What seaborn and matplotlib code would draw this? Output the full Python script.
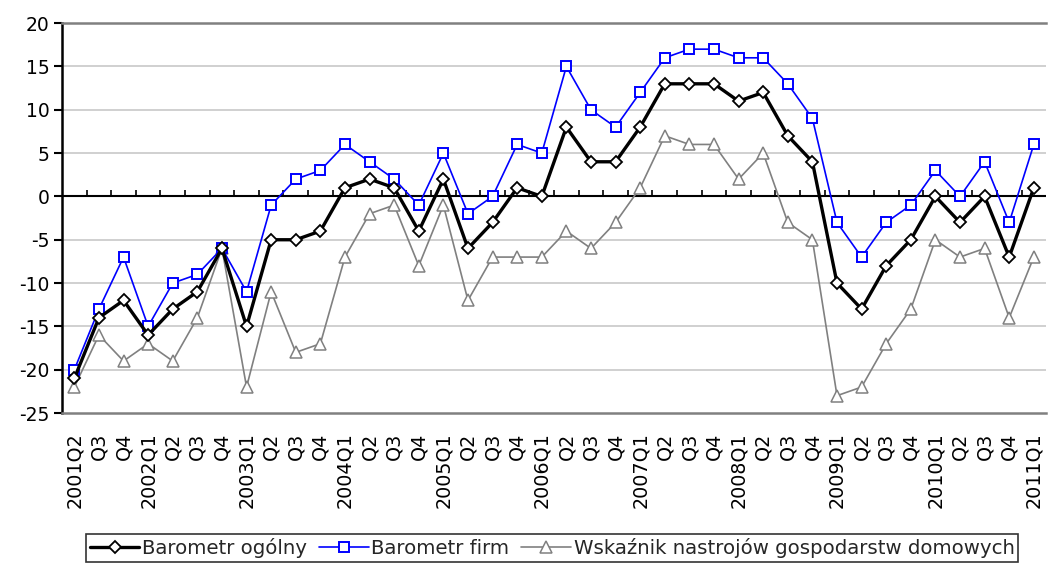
import numpy as np
import pandas as pd
import matplotlib
matplotlib.use("Agg")
import matplotlib.pyplot as plt
import seaborn as sns

# quarter labels, 2001Q2 .. 2011Q1
quarters = ["2001Q2", "Q3", "Q4",
            "2002Q1", "Q2", "Q3", "Q4",
            "2003Q1", "Q2", "Q3", "Q4",
            "2004Q1", "Q2", "Q3", "Q4",
            "2005Q1", "Q2", "Q3", "Q4",
            "2006Q1", "Q2", "Q3", "Q4",
            "2007Q1", "Q2", "Q3", "Q4",
            "2008Q1", "Q2", "Q3", "Q4",
            "2009Q1", "Q2", "Q3", "Q4",
            "2010Q1", "Q2", "Q3", "Q4",
            "2011Q1"]

barometr_ogolny = [-21, -14, -12, -16, -13, -11, -6, -15, -5, -5, -4,
                   1, 2, 1, -4, 2, -6, -3, 1, 0, 8, 4, 4, 8, 13, 13, 13,
                   11, 12, 7, 4, -10, -13, -8, -5, 0, -3, 0, -7, 1]
barometr_firm = [-20, -13, -7, -15, -10, -9, -6, -11, -1, 2, 3,
                 6, 4, 2, -1, 5, -2, 0, 6, 5, 15, 10, 8, 12, 16, 17, 17,
                 16, 16, 13, 9, -3, -7, -3, -1, 3, 0, 4, -3, 6]
nastroje_gd = [-22, -16, -19, -17, -19, -14, -6, -22, -11, -18, -17,
               -7, -2, -1, -8, -1, -12, -7, -7, -7, -4, -6, -3, 1, 7, 6, 6,
               2, 5, -3, -5, -23, -22, -17, -13, -5, -7, -6, -14, -7]

series_names = ["Barometr ogólny", "Barometr firm",
                "Wskaźnik nastrojów gospodarstw domowych"]

y_ticks = [20, 15, 10, 5, 0, -5, -10, -15, -20, -25]

sns.set_style("white")
plt.rcParams["font.family"] = ["DejaVu Sans"]

df = pd.DataFrame({
    "pos": np.arange(len(quarters)),
    series_names[0]: barometr_ogolny,
    series_names[1]: barometr_firm,
    series_names[2]: nastroje_gd,
})

fig = plt.figure(figsize=(10.48, 5.65), dpi=100)
ax = fig.add_axes([0.0592, 0.269, 0.939, 0.690])

# horizontal grid
for v in y_ticks:
    if v not in (20, -25, 0):
        ax.axhline(v, color="#c8c8c8", lw=1.2, zorder=0)

styles = [
    dict(color="black", lw=2.4, marker="D", ms=6.5, mfc="white", mec="black", mew=1.3),
    dict(color="#0000ff", lw=1.2, marker="s", ms=7, mfc="white", mec="#0000ff", mew=1.4),
    dict(color="#808080", lw=1.2, marker="^", ms=8, mfc="white", mec="#808080", mew=1.1),
]

# draw grey first so black stays on top
for name, st, z in zip(series_names[::-1], styles[::-1], [3, 4, 5]):
    sns.lineplot(data=df, x="pos", y=name, ax=ax, label=name, zorder=z,
                 legend=False, **st)

# zero axis with small category-boundary ticks
ax.axhline(0, color="black", lw=1.5, zorder=2)
bounds = np.arange(len(quarters) - 1) + 0.5
ax.vlines(bounds, 0, 0.75, color="black", lw=1.2, zorder=2)

ax.set_xlim(-0.5, len(quarters) - 0.5)
ax.set_ylim(-25, 20)
ax.set_yticks(y_ticks)
ax.set_yticklabels([str(v) for v in y_ticks])
ax.set_xticks(np.arange(len(quarters)))
ax.set_xticklabels(quarters, rotation=90, va="top", ha="center")
ax.set_xlabel("")
ax.set_ylabel("")

ax.tick_params(axis="x", length=0, pad=14, labelsize=13.8, colors="black")
ax.tick_params(axis="y", length=6, width=1.5, direction="out", pad=3,
               labelsize=13.5, colors="black", left=True)

for side in ("top", "bottom"):
    ax.spines[side].set_color("#808080")
    ax.spines[side].set_linewidth(1.8)
ax.spines["right"].set_visible(False)
ax.spines["left"].set_color("black")
ax.spines["left"].set_linewidth(1.8)

handles, labels = ax.get_legend_handles_labels()
order = [labels.index(n) for n in series_names]
leg = fig.legend([handles[i] for i in order], [labels[i] for i in order],
                 loc="center", bbox_to_anchor=(0.527, 0.030), ncol=3,
                 fontsize=14.2, frameon=True, fancybox=False,
                 handlelength=2.5, handletextpad=0.15, columnspacing=0.6,
                 borderpad=0.2, borderaxespad=0)
leg.get_frame().set_edgecolor("black")
leg.get_frame().set_linewidth(1.2)

fig.savefig("out.png", dpi=100)
